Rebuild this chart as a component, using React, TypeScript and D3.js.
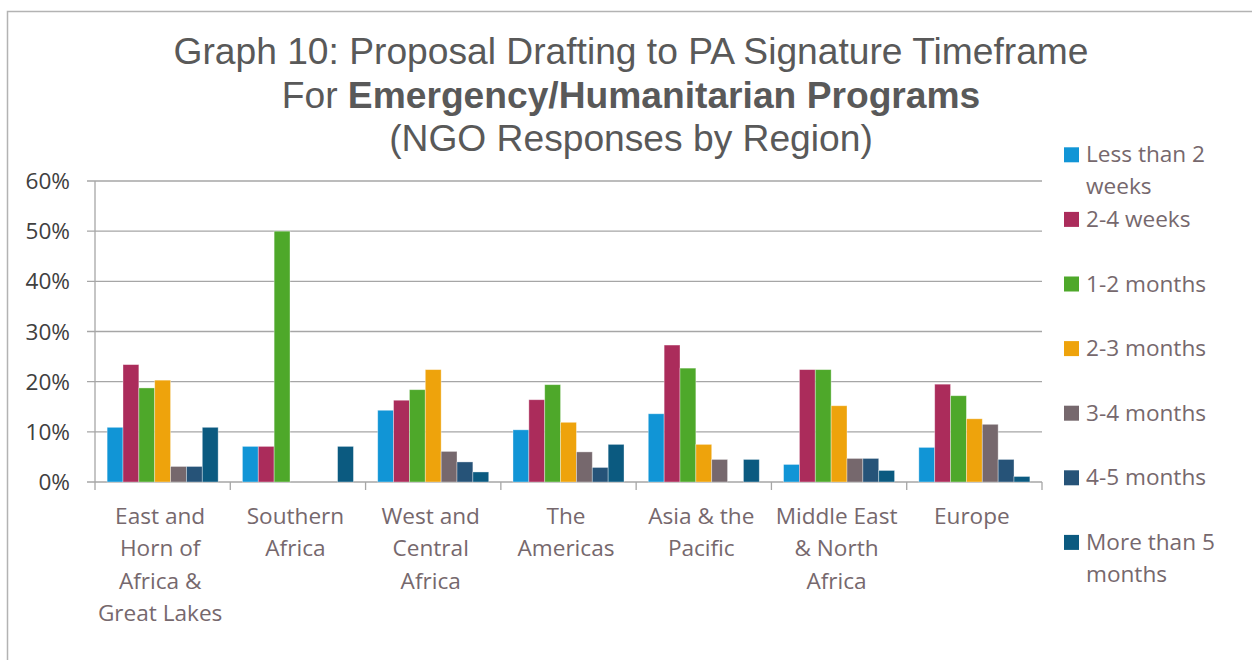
import React from "react";
import * as d3 from "d3";

const categories = [
  "East and Horn of Africa & Great Lakes",
  "Southern Africa",
  "West and Central Africa",
  "The Americas",
  "Asia & the Pacific",
  "Middle East & North Africa",
  "Europe",
];
const categoryLines = [
  ["East and", "Horn of", "Africa &", "Great Lakes"],
  ["Southern", "Africa"],
  ["West and", "Central", "Africa"],
  ["The", "Americas"],
  ["Asia & the", "Pacific"],
  ["Middle East", "& North", "Africa"],
  ["Europe"],
];

const seriesNames = [
  "Less than 2 weeks",
  "2-4 weeks",
  "1-2 months",
  "2-3 months",
  "3-4 months",
  "4-5 months",
  "More than 5 months",
];
const seriesLegendLines = [
  ["Less than 2", "weeks"],
  ["2-4 weeks"],
  ["1-2 months"],
  ["2-3 months"],
  ["3-4 months"],
  ["4-5 months"],
  ["More than 5", "months"],
];
const seriesColors = ["#1195d6", "#ab2c5b", "#4ea82a", "#eea30c", "#76686d", "#265378", "#0b5a80"];

// values in % per series, across categories
const lessThan2Weeks = [10.9, 7.1, 14.3, 10.4, 13.6, 3.5, 6.9];
const weeks2to4 = [23.4, 7.1, 16.3, 16.4, 27.3, 22.4, 19.5];
const months1to2 = [18.75, 50.0, 18.4, 19.4, 22.7, 22.4, 17.2];
const months2to3 = [20.3, 0, 22.4, 11.9, 7.5, 15.2, 12.6];
const months3to4 = [3.1, 0, 6.1, 6.0, 4.5, 4.7, 11.5];
const months4to5 = [3.1, 0, 4.0, 2.9, 0, 4.7, 4.5];
const moreThan5Months = [10.9, 7.1, 2.0, 7.5, 4.5, 2.3, 1.1];
const seriesValues = [lessThan2Weeks, weeks2to4, months1to2, months2to3, months3to4, months4to5, moreThan5Months];

const yTicks = [0, 10, 20, 30, 40, 50, 60];

const W = 1252;
const H = 660;
const plot = { left: 95, right: 1042, top: 181, bottom: 482 };
const FONT = "'Open Sans', sans-serif";
const FS = 22.6;

export default function App() {
  const x = d3.scaleBand<string>().domain(categories).range([plot.left, plot.right]).padding(0);
  const inner = d3
    .scaleBand<string>()
    .domain(seriesNames)
    .range([0, x.bandwidth()])
    .paddingInner(0)
    .paddingOuter(0.765);
  const y = d3.scaleLinear().domain([0, 60]).range([plot.bottom, plot.top]);
  const fmt = (v: number) => `${v}%`;

  const boundaries = d3.range(categories.length + 1).map((i) => plot.left + i * x.step());
  const legendY = (i: number) => 154.8 + i * 64.6;
  const labelX = (c: string) => (x(c) as number) + x.bandwidth() / 2 - 2.5;

  return (
    <svg
      width={W}
      height={H}
      style={{ position: "absolute", left: 0, top: 0, background: "#fff" }}
      xmlns="http://www.w3.org/2000/svg"
    >
      <rect x={0} y={0} width={W} height={H} fill="#fff" />
      <rect x={7.5} y={11.5} width={1300} height={700} fill="none" stroke="#b3b3b3" strokeWidth={1.5} />

      {/* Title */}
      <g fontFamily="'Liberation Sans', Arial, sans-serif" fontSize={37.2} fill="#595959" textAnchor="middle">
        <text x={631} y={64}>Graph 10: Proposal Drafting to PA Signature Timeframe</text>
        <text x={631} y={108}>
          For <tspan fontWeight="bold">Emergency/Humanitarian Programs</tspan>
        </text>
        <text x={631} y={151}>(NGO Responses by Region)</text>
      </g>

      {/* gridlines */}
      <g stroke="#a6a6a6" strokeWidth={1.3}>
        {yTicks.map((t) => (
          <line key={t} x1={plot.left - 8} x2={plot.right} y1={y(t)} y2={y(t)} />
        ))}
        <line x1={plot.left} x2={plot.left} y1={plot.top} y2={plot.bottom} />
        {boundaries.map((b, i) => (
          <line key={i} x1={b} x2={b} y1={plot.bottom} y2={plot.bottom + 8} />
        ))}
      </g>

      {/* y tick labels */}
      <g fontFamily={FONT} fontSize={FS} fill="#404040" textAnchor="end">
        {yTicks.map((t) => (
          <text key={t} x={70} y={y(t) + 8}>
            {fmt(t)}
          </text>
        ))}
      </g>

      {/* bars */}
      {categories.map((c, ci) => (
        <g key={c} transform={`translate(${x(c)},0)`}>
          {seriesNames.map((s, si) => {
            const v = seriesValues[si][ci];
            if (!v) return null;
            return (
              <rect
                key={s}
                x={inner(s)}
                y={y(v)}
                width={inner.bandwidth()}
                height={y(0) - y(v)}
                fill={seriesColors[si]}
                stroke="#ffffff"
                strokeOpacity={0.45}
                strokeWidth={0.8}
              />
            );
          })}
        </g>
      ))}

      {/* category labels */}
      <g fontFamily={FONT} fontSize={FS} fill="#76686d" textAnchor="middle">
        {categories.map((c, ci) => (
          <text key={c} x={labelX(c)} y={524}>
            {categoryLines[ci].map((ln, li) => (
              <tspan key={li} x={labelX(c)} y={524 + li * 32.3}>
                {ln}
              </tspan>
            ))}
          </text>
        ))}
      </g>

      {/* legend */}
      <g fontFamily={FONT} fontSize={FS} fill="#76686d">
        {seriesNames.map((s, si) => (
          <g key={s}>
            <rect x={1064} y={legendY(si) - 7.5} width={15} height={15} fill={seriesColors[si]} />
            <text x={1086} y={legendY(si) + 7.5}>
              {seriesLegendLines[si].map((ln, li) => (
                <tspan key={li} x={1086} y={legendY(si) + 7.5 + li * 31.7}>
                  {ln}
                </tspan>
              ))}
            </text>
          </g>
        ))}
      </g>
    </svg>
  );
}
